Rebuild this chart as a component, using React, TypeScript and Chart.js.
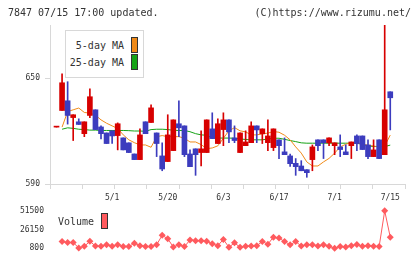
import React, { useEffect, useRef } from 'react';
import { Chart, registerables } from 'chart.js';

Chart.register(...registerables);

// ---- data ----
const dateLabels = ['5/1', '5/20', '6/3', '6/17', '7/1', '7/15'];
const dateLabelIndex = [10, 20, 30, 40, 50, 60];

const opens = [622.2, 631.6, 637.1, 627.6, 625.2, 618.5, 628.8, 632.0, 622.3, 618.9, 620.1, 617.4, 616.1, 613.3, 607.0, 603.8, 625.2, 624.8, 618.9, 605.9, 602.7, 608.9, 624.1, 622.9, 607.0, 609.9, 607.8, 607.8, 621.2, 612.9, 620.8, 626.3, 616.1, 607.8, 611.7, 613.4, 622.9, 618.4, 613.4, 610.6, 615.0, 608.2, 605.9, 601.7, 600.2, 598.1, 603.8, 615.0, 615.0, 613.3, 611.7, 611.0, 608.2, 611.7, 617.2, 617.2, 612.1, 605.5, 615.0, 606.6, 642.2];
const closes = [622.2, 647.3, 628.8, 629.2, 623.7, 625.2, 639.4, 620.8, 618.5, 612.9, 617.2, 624.1, 609.3, 607.8, 603.8, 617.8, 618.5, 633.1, 612.9, 598.5, 617.8, 626.3, 621.8, 606.6, 599.8, 606.6, 609.9, 626.3, 615.7, 624.1, 626.3, 619.5, 614.6, 618.9, 613.8, 622.9, 620.6, 621.2, 617.2, 621.2, 611.7, 606.6, 601.5, 599.8, 597.5, 596.4, 611.0, 611.7, 613.4, 616.1, 613.3, 609.5, 606.6, 613.8, 612.9, 609.5, 605.5, 609.3, 604.4, 632.0, 638.8];
const highs = [622.2, 652.4, 647.9, 629.2, 626.9, 625.2, 643.9, 632.0, 622.9, 618.9, 620.1, 624.6, 616.1, 613.3, 607.0, 621.2, 625.2, 634.8, 618.9, 613.3, 629.2, 626.3, 637.1, 622.9, 609.3, 609.9, 620.1, 626.3, 630.3, 626.9, 630.3, 626.3, 622.9, 618.9, 620.1, 625.2, 622.9, 621.2, 626.3, 621.2, 615.0, 616.1, 607.0, 604.4, 603.2, 598.1, 612.1, 615.0, 615.0, 616.1, 613.3, 617.8, 612.1, 613.8, 617.8, 617.2, 615.0, 615.0, 615.0, 680.0, 642.2];
const lows = [622.2, 631.6, 623.9, 614.6, 623.7, 616.8, 627.6, 620.8, 615.5, 612.9, 612.9, 609.3, 609.3, 607.8, 603.8, 603.8, 618.5, 624.8, 605.5, 597.5, 602.7, 608.9, 616.8, 605.5, 599.8, 594.9, 600.2, 607.8, 615.7, 612.9, 611.7, 613.4, 613.4, 607.8, 611.7, 613.4, 613.4, 612.9, 608.9, 608.9, 604.4, 606.6, 600.0, 594.9, 597.5, 593.8, 597.5, 608.9, 604.4, 611.7, 606.6, 605.5, 606.6, 604.4, 608.9, 609.5, 604.4, 605.5, 604.4, 606.6, 620.6];

const ma5 = [null, 622.2, 631.0, 632.0, 633.0, 630.5, 630.1, 629.0, 626.3, 624.4, 622.9, 621.4, 617.8, 615.0, 613.4, 612.1, 612.1, 610.8, 616.8, 617.4, 616.8, 616.8, 616.8, 615.9, 613.8, 613.8, 612.3, 610.0, 610.4, 611.6, 615.9, 620.1, 621.9, 620.1, 619.5, 617.8, 617.8, 618.4, 618.8, 619.7, 619.3, 617.6, 615.0, 611.0, 607.5, 602.5, 600.2, 600.2, 602.5, 604.5, 607.5, 611.0, 612.5, 613.5, 613.5, 612.5, 612.0, 611.5, 611.0, 611.5, 617.7];
const ma25 = [null, 621.0, 621.8, 621.5, 621.0, 620.8, 620.5, 620.5, 620.3, 620.3, 620.3, 620.3, 620.3, 620.2, 620.0, 620.0, 619.8, 620.8, 621.0, 621.0, 620.8, 620.4, 620.3, 620.3, 619.6, 618.5, 617.8, 617.6, 616.0, 616.0, 616.0, 616.0, 615.9, 615.5, 615.2, 615.0, 615.0, 615.0, 615.5, 615.9, 615.9, 615.3, 614.6, 614.0, 613.3, 613.1, 613.1, 613.1, 613.1, 613.1, 613.1, 613.1, 613.1, 613.1, 613.0, 612.5, 611.5, 611.2, 611.2, 611.2, 612.0];

const volumes = [null, 9740, 8460, 8460, 1200, 3350, 10100, 3740, 3350, 5530, 3350, 5530, 2970, 2970, 7570, 4250, 2970, 2970, 5530, 18300, 13570, 2460, 5530, 2970, 11910, 11020, 11020, 10100, 6800, 4250, 12680, 2080, 8080, 2080, 3350, 3740, 4250, 9740, 6290, 15740, 14470, 9740, 5530, 9740, 3740, 5530, 5530, 3740, 5530, 3350, 800, 2970, 2460, 4250, 5900, 3350, 4250, 3350, 2970, 51500, 15740];

const priceTicks = [590, 650];
const volumeTicks = [800, 26150, 51500];

// ---- styling ----
const X_MIN = -1.17;
const X_MAX = 62.65;
const GRID_DIVS = 11;
const RED = '#d70000';
const BLUE = '#3c3cbe';
const ORANGE = '#f08a18';
const GREEN = '#16a316';
const VOL = '#ff5a5e';
const AXIS = '#d8d8d8';
const TXT = '#333';
const MONO = '"DejaVu Sans Mono", monospace';

export default function App() {
  const priceRef = useRef<HTMLCanvasElement>(null);
  const volRef = useRef<HTMLCanvasElement>(null);

  useEffect(() => {
    const idx = opens.map((_, i) => i);
    const up = idx.map((i) => closes[i] >= opens[i]);
    const colors = up.map((u) => (u ? RED : BLUE));
    const gridTicks = Array.from({ length: GRID_DIVS + 1 }, (_, k) => X_MIN + (k * (X_MAX - X_MIN)) / GRID_DIVS);
    const tickFont = { family: MONO, size: 8 };

    const price = new Chart(priceRef.current!, {
      type: 'bar',
      data: {
        datasets: [
          {
            type: 'bar',
            label: 'body',
            data: idx.map((i) => ({ x: i, y: [Math.min(opens[i], closes[i]), Math.max(opens[i], closes[i])] })) as any,
            backgroundColor: colors,
            borderWidth: 0,
            barThickness: 5,
            maxBarThickness: 5,
            minBarLength: 1,
            grouped: false,
            order: 0,
          } as any,
          {
            type: 'bar',
            label: 'wick',
            data: idx.map((i) => ({ x: i, y: [lows[i], highs[i]] })) as any,
            backgroundColor: colors,
            borderWidth: 0,
            barThickness: 1,
            maxBarThickness: 1,
            minBarLength: 0,
            grouped: false,
            order: 1,
          } as any,
          {
            type: 'line',
            label: '5-day MA',
            data: idx.filter((i) => ma5[i] != null).map((i) => ({ x: i, y: ma5[i] })) as any,
            borderColor: ORANGE,
            borderWidth: 1,
            pointRadius: 0,
            tension: 0,
            order: 2,
          } as any,
          {
            type: 'line',
            label: '25-day MA',
            data: idx.filter((i) => ma25[i] != null).map((i) => ({ x: i, y: ma25[i] })) as any,
            borderColor: GREEN,
            borderWidth: 1,
            pointRadius: 0,
            tension: 0,
            order: 3,
          } as any,
        ],
      },
      options: {
        animation: false,
        responsive: false,
        maintainAspectRatio: false,
        layout: { padding: { left: 0, right: 15, top: 25, bottom: 0 } },
        plugins: { legend: { display: false }, tooltip: { enabled: false } },
        scales: {
          x: {
            type: 'linear',
            position: 'bottom',
            min: X_MIN,
            max: X_MAX,
            offset: false,
            weight: 0,
            grid: { display: true, drawOnChartArea: false, drawTicks: true, tickLength: 5, color: AXIS, offset: false },
            border: { display: true, color: AXIS },
            ticks: { autoSkip: false, maxRotation: 0, callback: () => '', font: tickFont, padding: 0 },
            afterBuildTicks: (s: any) => {
              s.ticks = gridTicks.map((v) => ({ value: v }));
            },
            afterFit: (s: any) => {
              s.height = 6;
            },
          },
          x2: {
            type: 'linear',
            position: 'bottom',
            min: X_MIN,
            max: X_MAX,
            offset: false,
            weight: 1,
            grid: { display: false, drawTicks: false, offset: false },
            border: { display: false },
            ticks: {
              autoSkip: false,
              maxRotation: 0,
              padding: 3,
              font: tickFont,
              color: TXT,
              callback: (v: any) => {
                const k = dateLabelIndex.indexOf(Number(v));
                return k >= 0 ? dateLabels[k] : '';
              },
            },
            afterBuildTicks: (s: any) => {
              s.ticks = dateLabelIndex.map((v) => ({ value: v }));
            },
            afterFit: (s: any) => {
              s.height = 20;
            },
          },
          y: {
            type: 'linear',
            min: 590,
            max: 680,
            grid: { display: true, drawOnChartArea: false, drawTicks: true, tickLength: 5, color: AXIS },
            border: { display: true, color: AXIS },
            ticks: { padding: 5, font: tickFont, color: TXT, callback: (v: any) => String(v) },
            afterBuildTicks: (s: any) => {
              s.ticks = priceTicks.map((v) => ({ value: v }));
            },
            afterFit: (s: any) => {
              s.width = 50;
            },
          },
        },
      } as any,
    });

    const vol = new Chart(volRef.current!, {
      type: 'line',
      data: {
        datasets: [
          {
            label: 'Volume',
            data: idx.filter((i) => volumes[i] != null).map((i) => ({ x: i, y: volumes[i] })) as any,
            borderColor: VOL,
            backgroundColor: VOL,
            borderWidth: 1,
            pointStyle: 'rectRot',
            pointRadius: 3.5,
            pointBorderWidth: 0,
            pointBackgroundColor: VOL,
            tension: 0,
            clip: false,
          } as any,
        ],
      },
      options: {
        animation: false,
        responsive: false,
        maintainAspectRatio: false,
        layout: { padding: { left: 0, right: 15, top: 9, bottom: 10 } },
        plugins: { legend: { display: false }, tooltip: { enabled: false } },
        scales: {
          x: { type: 'linear', min: X_MIN, max: X_MAX, display: false },
          y: {
            type: 'linear',
            min: 800,
            max: 51500,
            grid: { display: false, drawTicks: false },
            border: { display: false },
            ticks: { padding: 6, font: tickFont, color: TXT, callback: (v: any) => String(v) },
            afterBuildTicks: (s: any) => {
              s.ticks = volumeTicks.map((v) => ({ value: v }));
            },
            afterFit: (s: any) => {
              s.width = 50;
            },
          },
        },
      } as any,
    });

    return () => {
      price.destroy();
      vol.destroy();
    };
  }, []);

  const text10: React.CSSProperties = { fontFamily: MONO, fontSize: 10, lineHeight: '12px', color: TXT, position: 'absolute', whiteSpace: 'nowrap' };

  return (
    <div style={{ position: 'fixed', left: 0, top: 0, width: 420, height: 259, background: '#fff', overflow: 'hidden' }}>
      <canvas ref={priceRef} width={420} height={210} style={{ position: 'absolute', left: 0, top: 0, width: 420, height: 210 }} />
      <canvas ref={volRef} width={420} height={59} style={{ position: 'absolute', left: 0, top: 200, width: 420, height: 59 }} />
      <div style={{ ...text10, left: 8, top: 7 }}>7847 07/15 17:00 updated.</div>
      <div style={{ ...text10, right: 9, top: 7, textAlign: 'right' }}>(C)https://www.rizumu.net/</div>
      <div style={{ position: 'absolute', left: 65, top: 30, width: 79, height: 48, border: `1px solid ${AXIS}`, background: '#fff', boxSizing: 'border-box' }}>
        <div style={{ ...text10, left: 0, top: 9, width: 58, textAlign: 'right' }}>5-day MA</div>
        <div style={{ position: 'absolute', left: 65, top: 6, width: 7, height: 16, background: ORANGE, border: '1px solid #333', boxSizing: 'border-box' }} />
        <div style={{ ...text10, left: 0, top: 26, width: 58, textAlign: 'right' }}>25-day MA</div>
        <div style={{ position: 'absolute', left: 65, top: 23, width: 7, height: 16, background: GREEN, border: '1px solid #333', boxSizing: 'border-box' }} />
      </div>
      <div style={{ ...text10, left: 58, top: 216 }}>Volume</div>
      <div style={{ position: 'absolute', left: 101, top: 213, width: 7, height: 16, background: VOL, border: '1px solid #333', boxSizing: 'border-box' }} />
    </div>
  );
}
